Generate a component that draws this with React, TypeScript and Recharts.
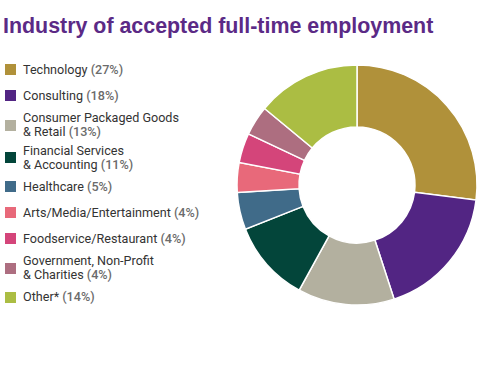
import { Cell, Pie, PieChart } from 'recharts';

const industries = [
  'Technology',
  'Consulting',
  'Consumer Packaged Goods\n& Retail',
  'Financial Services\n& Accounting',
  'Healthcare',
  'Arts/Media/Entertainment',
  'Foodservice/Restaurant',
  'Government, Non-Profit\n& Charities',
  'Other*',
];
const shares = [27, 18, 13, 11, 5, 4, 4, 4, 14];
const colors = ['#B0913A', '#522583', '#B3B09F', '#03453A', '#406B89', '#E8697A', '#D4457A', '#AD6E80', '#ABBD43'];

const data = industries.map((name, i) => ({ name, value: shares[i] }));

function LegendLabel({ name, value }: { name: string; value: number }) {
  const lines = name.split('\n');
  return (
    <div style={{ fontSize: 12.6, lineHeight: '14px', color: '#333' }}>
      {lines.map((line, j) => (
        <div key={j} style={{ whiteSpace: 'nowrap' }}>
          {line}
          {j === lines.length - 1 && <span style={{ color: '#6b6b6b', fontWeight: 500 }}> ({value}%)</span>}
        </div>
      ))}
    </div>
  );
}

function App() {
  return (
    <div style={{ position: 'absolute', left: 0, top: 0, width: 483, height: 381, background: '#fff', fontFamily: 'Roboto, sans-serif' }}>
      <div
        style={{
          position: 'absolute',
          left: 3,
          top: 14,
          fontFamily: '"Liberation Sans Narrow", "Liberation Sans", sans-serif',
          fontWeight: 700,
          fontSize: 21.4,
          lineHeight: '24px',
          color: '#5B2A86',
          whiteSpace: 'nowrap',
        }}
      >
        Industry of accepted full-time employment
      </div>
      <div style={{ position: 'absolute', left: 5, top: 59, display: 'flex', flexDirection: 'column', gap: 4.5 }}>
        {data.map((d, i) => (
          <div key={d.name} style={{ display: 'flex', alignItems: 'center', minHeight: 21.5 }}>
            <div style={{ width: 11, height: 11, background: colors[i], marginRight: 7, flexShrink: 0 }} />
            <LegendLabel name={d.name} value={d.value} />
          </div>
        ))}
      </div>
      <div style={{ position: 'absolute', left: 0, top: 0 }}>
        <PieChart width={483} height={381}>
          <Pie
            data={data}
            dataKey="value"
            nameKey="name"
            cx={352}
            cy={180}
            innerRadius={58}
            outerRadius={120}
            startAngle={90}
            endAngle={-270}
            stroke="#fff"
            strokeWidth={1.5}
            isAnimationActive={false}
          >
            {data.map((d, i) => (
              <Cell key={d.name} fill={colors[i]} />
            ))}
          </Pie>
        </PieChart>
      </div>
    </div>
  );
}

export default App;
